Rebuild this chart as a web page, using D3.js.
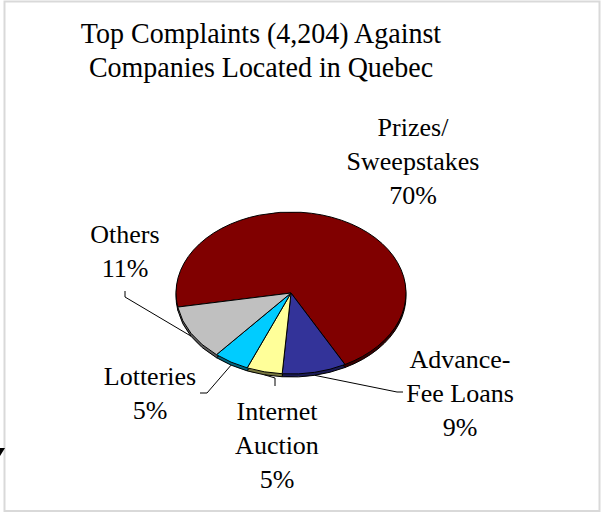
<!DOCTYPE html>
<html lang="en">
<head>
    <meta charset="UTF-8">
    <title>Top Complaints Against Companies Located in Quebec</title>
    <style>
        body {
            margin: 0;
            background: #fff;
        }

        .slice {
            stroke: #000;
            stroke-width: 1;
            vector-effect: non-scaling-stroke;
        }

        .leader {
            fill: none;
            stroke: #000;
            stroke-width: 1;
        }
    </style>
</head>
<body>
    <svg id="chart" width="602" height="516" font-family="'Liberation Serif', 'Times New Roman', Times, serif"></svg>

    <script src="https://d3js.org/d3.v7.min.js"></script>
    <script>
        // data
        const titleLines = ["Top Complaints (4,204) Against", "Companies Located in Quebec"];
        const categories = ["Prizes/ Sweepstakes", "Advance-Fee Loans", "Internet Auction", "Lotteries", "Others"];
        const labelLines = [["Prizes/", "Sweepstakes"], ["Advance-", "Fee Loans"], ["Internet", "Auction"], ["Lotteries"], ["Others"]];
        const shares = [70, 9, 5, 5, 11];
        const colors = ["#800000", "#333399", "#ffff99", "#00ccff", "#c0c0c0"];
        const sideColors = ["#3a0000", "#1a1a55", "#77773f", "#006680", "#5c5c5c"];

        // layout
        const cx = 291, cy = 293, rx = 115, ry = 81, depth = 3;
        const startDeg = -100;
        // label centre x, first baseline, and leader anchor points (label side)
        const labelPos = [
            { x: 413, y: 136, leader: null },
            { x: 460, y: 368, leader: [[403, 392], [397, 392]] },
            { x: 277, y: 420, leader: [[275, 386], [275, 378]] },
            { x: 150, y: 385, leader: [[200, 393], [207, 393]] },
            { x: 125, y: 243, leader: [[125, 291], [125, 297]] }
        ];
        const lineGap = 34;

        const svg = d3.select("#chart");

        // frame
        svg.append("rect")
            .attr("x", 4.5).attr("y", 1.5)
            .attr("width", 595).attr("height", 509.5)
            .attr("fill", "#fff")
            .attr("stroke", "#d9d9d9")
            .attr("stroke-width", 2);

        // small mark on the left edge
        svg.append("path")
            .attr("d", "M0,448 L5,448 L0,456 Z")
            .attr("fill", "#000");

        // title (source looks a little stretched vertically)
        svg.append("g").selectAll("text")
            .data(titleLines)
            .join("text")
            .attr("transform", (d, i) => `translate(261,${43 + i * 34}) scale(1,1.08)`)
            .attr("text-anchor", "middle")
            .attr("font-size", 28)
            .text(d => d);

        const pie = d3.pie()
            .sort(null)
            .value(d => d)
            .startAngle(startDeg * Math.PI / 180)
            .endAngle(startDeg * Math.PI / 180 + 2 * Math.PI);

        const arcs = pie(shares);
        const arc = d3.arc().innerRadius(0).outerRadius(rx);

        // bottom layer gives the thin 3d edge
        svg.append("g")
            .attr("transform", `translate(${cx},${cy + depth}) scale(1,${ry / rx})`)
            .selectAll("path")
            .data(arcs)
            .join("path")
            .attr("class", "slice")
            .attr("d", arc)
            .attr("fill", (d, i) => sideColors[i]);

        // top face
        svg.append("g")
            .attr("transform", `translate(${cx},${cy}) scale(1,${ry / rx})`)
            .selectAll("path")
            .data(arcs)
            .join("path")
            .attr("class", "slice")
            .attr("d", arc)
            .attr("fill", (d, i) => colors[i]);

        // leader lines go to the slice edge at its middle angle
        function edgePoint(d) {
            const a = (d.startAngle + d.endAngle) / 2;
            return [cx + rx * Math.sin(a), cy - ry * Math.cos(a) + depth];
        }

        const line = d3.line();
        svg.append("g").selectAll("path")
            .data(arcs.filter((d, i) => labelPos[i].leader))
            .join("path")
            .attr("class", "leader")
            .attr("d", d => line(labelPos[d.index].leader.concat([edgePoint(d)])));

        // labels
        const labels = svg.append("g").selectAll("g")
            .data(arcs)
            .join("g");

        labels.each(function (d, i) {
            const g = d3.select(this);
            const lines = labelLines[i].concat([shares[i] + "%"]);
            g.selectAll("text")
                .data(lines)
                .join("text")
                .attr("x", labelPos[i].x)
                .attr("y", (t, k) => labelPos[i].y + k * lineGap)
                .attr("text-anchor", "middle")
                .attr("font-size", 26)
                .text(t => t);
        });
    </script>
</body>
</html>
